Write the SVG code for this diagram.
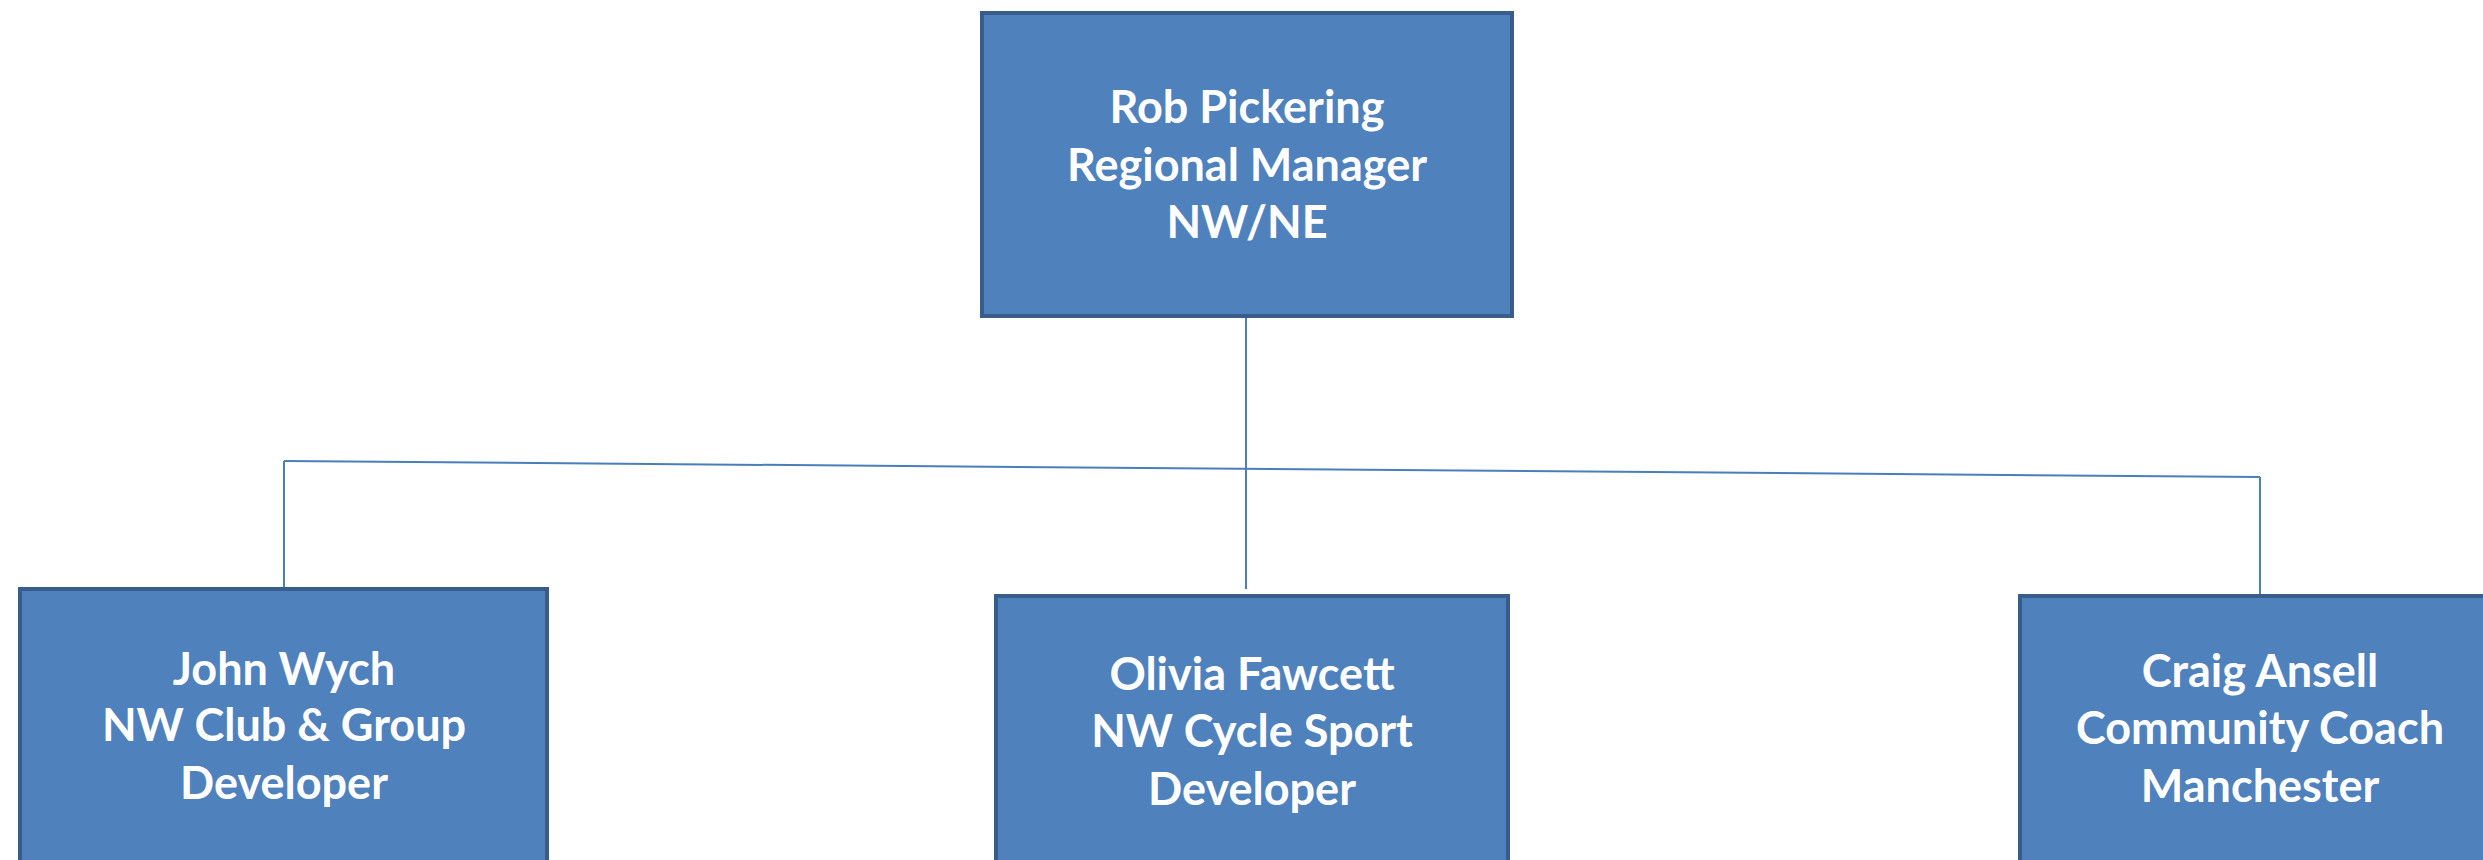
<svg xmlns="http://www.w3.org/2000/svg" width="2483" height="860" viewBox="0 0 2483 860">
<style>
.box{fill:#4F81BD;stroke:#385D8A;stroke-width:4}
.t{font-family:Lato,"Liberation Sans",sans-serif;font-weight:bold;font-size:45px;fill:#FFFFFF;text-anchor:middle}
.c{stroke:#4A7EBB;stroke-width:2;fill:none}
</style>
<rect width="2483" height="860" fill="#FFFFFF"/>
<g id="connectors">
<line class="c" x1="1246" y1="318" x2="1246" y2="589"/>
<line class="c" x1="284" y1="461" x2="2260" y2="477"/>
<line class="c" x1="284" y1="461" x2="284" y2="587"/>
<line class="c" x1="2260" y1="477" x2="2260" y2="594"/>
</g>
<g id="rob">
<rect class="box" x="982" y="13" width="530" height="303"/>
<text class="t" x="1247" y="123">Rob Pickering</text>
<text class="t" x="1247" y="181">Regional Manager</text>
<text class="t" x="1247" y="238">NW/NE</text>
</g>
<g id="john">
<rect class="box" x="20" y="589" width="527" height="300"/>
<text class="t" x="284" y="685">John Wych</text>
<text class="t" x="284" y="741">NW Club &amp; Group</text>
<text class="t" x="284" y="799">Developer</text>
</g>
<g id="olivia">
<rect class="box" x="996" y="596" width="512" height="300"/>
<text class="t" x="1252" y="690">Olivia Fawcett</text>
<text class="t" x="1252" y="747">NW Cycle Sport</text>
<text class="t" x="1252" y="805">Developer</text>
</g>
<g id="craig">
<rect class="box" x="2020" y="596" width="500" height="300"/>
<text class="t" x="2260" y="687">Craig Ansell</text>
<text class="t" x="2260" y="744">Community Coach</text>
<text class="t" x="2260" y="802">Manchester</text>
</g>
</svg>
